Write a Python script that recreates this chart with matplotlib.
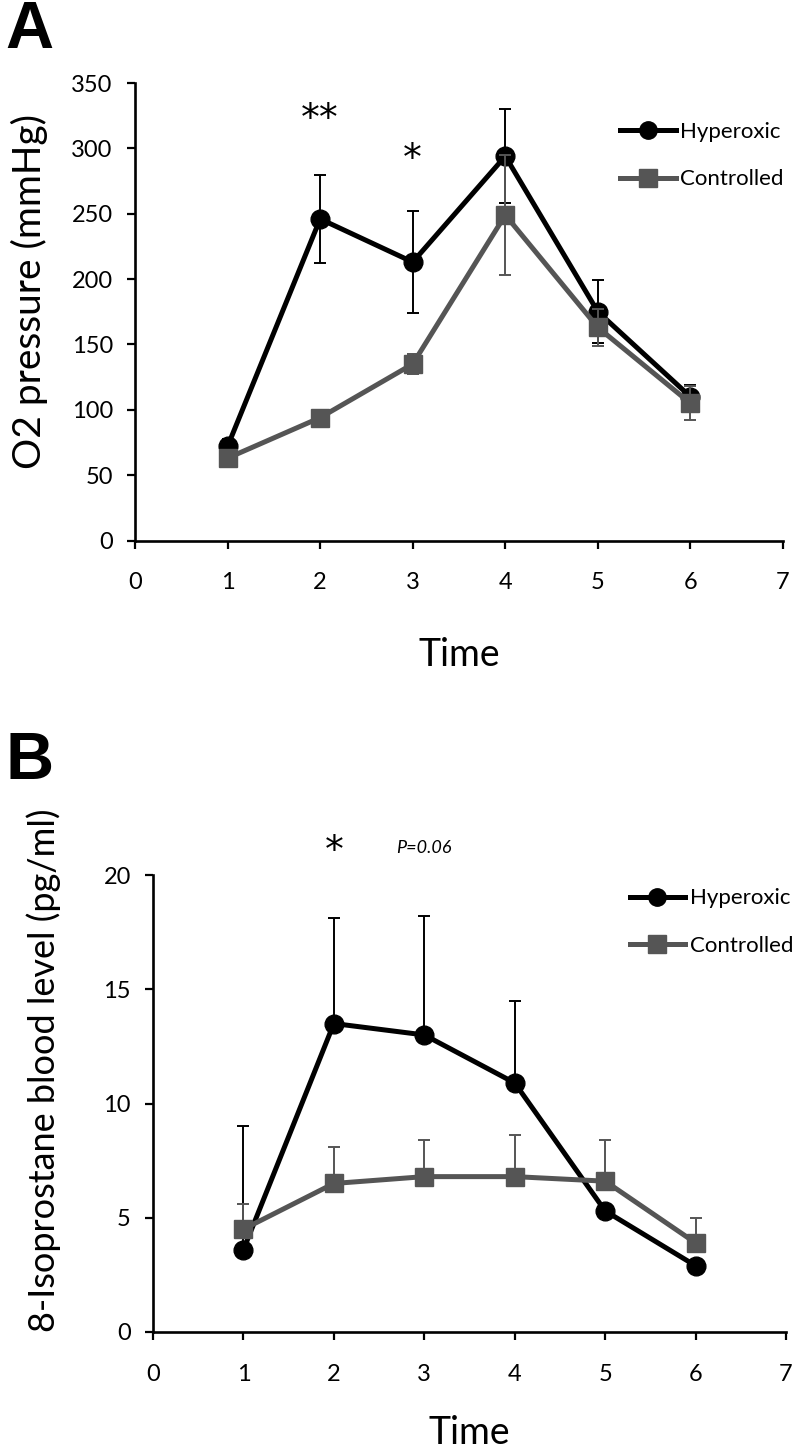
import matplotlib
matplotlib.use("Agg")
import matplotlib.pyplot as plt
from matplotlib.lines import Line2D

plt.rcParams['font.family'] = ['Lato', 'DejaVu Sans']

# ---- data ----
time = [1, 2, 3, 4, 5, 6]

o2_hyper = [72, 246, 213, 294, 175, 110]
o2_hyper_err = [6, 34, 39, 36, 24, 9]
o2_ctrl = [63, 94, 135, 249, 163, 105]
o2_ctrl_err = [4, 5, 8, 46, 14, 13]

iso_hyper = [3.6, 13.5, 13.0, 10.9, 5.3, 2.9]
iso_hyper_err = [5.4, 4.6, 5.2, 3.6, 0.0, 0.0]
iso_ctrl = [4.5, 6.5, 6.8, 6.8, 6.6, 3.9]
iso_ctrl_err = [1.1, 1.6, 1.6, 1.8, 1.8, 1.1]

labels = ["Hyperoxic", "Controlled"]
xticks = [0, 1, 2, 3, 4, 5, 6, 7]
yticks_a = [0, 50, 100, 150, 200, 250, 300, 350]
yticks_b = [0, 5, 10, 15, 20]

BLACK = "#000000"
GREY = "#555555"
LW = 3.6
MS = 13.5

W, H = 802, 1452
fig = plt.figure(figsize=(W / 100, H / 100), dpi=100)


def ax_rect(x0, x1, ytop, ybot):
    return [x0 / W, 1 - ybot / H, (x1 - x0) / W, (ybot - ytop) / H]


def style(ax, ylim, yticks):
    for s in ("top", "right"):
        ax.spines[s].set_visible(False)
    for s in ("left", "bottom"):
        ax.spines[s].set_linewidth(1.9)
    ax.set_xlim(0, 7)
    ax.set_ylim(*ylim)
    ax.set_xticks(xticks)
    ax.set_yticks(yticks)
    ax.tick_params(axis="both", direction="out", length=6, width=1.6,
                   labelsize=17)
    ax.tick_params(axis="x", pad=17)
    ax.tick_params(axis="y", pad=10)


def legend(ax, anchor):
    handles = [
        Line2D([], [], color=BLACK, lw=LW, marker="o", ms=MS - 1),
        Line2D([], [], color=GREY, lw=LW, marker="s", ms=MS - 1),
    ]
    ax.legend(handles, labels, loc="upper left", bbox_to_anchor=anchor,
              frameon=False, fontsize=16, handlelength=2.5,
              handletextpad=0.2, labelspacing=1.25, borderaxespad=0,
              borderpad=0.4)


def labels_xy(ax, ylabel, yl_x, yl_y, yl_fs, xl_y):
    ax.set_ylabel(ylabel, fontsize=yl_fs)
    ax.yaxis.set_label_coords(yl_x, yl_y)
    ax.yaxis.label.set_verticalalignment("center")
    ax.set_xlabel("Time", fontsize=27)
    ax.xaxis.set_label_coords(0.5, xl_y)
    ax.xaxis.label.set_verticalalignment("center")


# ---- Panel A ----
axA = fig.add_axes(ax_rect(135, 783, 83, 540.5))
axA.errorbar(time, o2_hyper, yerr=o2_hyper_err, color=BLACK, lw=LW,
             marker="o", ms=MS, ecolor=BLACK, elinewidth=1.4, capsize=4,
             capthick=1.4, zorder=3)
axA.errorbar(time, o2_ctrl, yerr=o2_ctrl_err, color=GREY, lw=LW,
             marker="s", ms=MS, ecolor=GREY, elinewidth=1.4, capsize=4,
             capthick=1.4, zorder=4)
style(axA, (0, 350), yticks_a)
labels_xy(axA, "O2 pressure (mmHg)", -0.163, 0.545, 28, -0.25)
axA.text(2, 322, "**", ha="center", va="center", fontsize=27,
         family="DejaVu Sans")
axA.text(3, 291, "*", ha="center", va="center", fontsize=27,
         family="DejaVu Sans")
legend(axA, (0.735, 0.935))
fig.text(5 / W, 1 - 31 / H, "A", fontsize=48, fontweight="bold",
         family="Liberation Sans", va="center", ha="left")

# ---- Panel B ----
axB = fig.add_axes(ax_rect(153, 786, 875, 1332))
axB.errorbar(time, iso_hyper, yerr=[[0] * 6, iso_hyper_err], color=BLACK,
             lw=LW, marker="o", ms=MS, ecolor=BLACK, elinewidth=1.4,
             capsize=4, capthick=1.4, zorder=3)
axB.errorbar(time, iso_ctrl, yerr=[[0] * 6, iso_ctrl_err], color=GREY,
             lw=LW, marker="s", ms=MS, ecolor=GREY, elinewidth=1.4,
             capsize=4, capthick=1.4, zorder=4)
style(axB, (0, 20), yticks_b)
labels_xy(axB, "8-Isoprostane blood level (pg/ml)", -0.172, 0.572, 26,
          -0.222)
axB.text(2, 21.0, "*", ha="center", va="center", fontsize=27,
         family="DejaVu Sans")
axB.text(2.99, 21.2, "P=0.06", ha="center", va="center", fontsize=13,
         style="italic")
legend(axB, (0.739, 0.99))
fig.text(5 / W, 1 - 762 / H, "B", fontsize=48, fontweight="bold",
         family="Liberation Sans", va="center", ha="left")

fig.savefig("out.png", dpi=100)
